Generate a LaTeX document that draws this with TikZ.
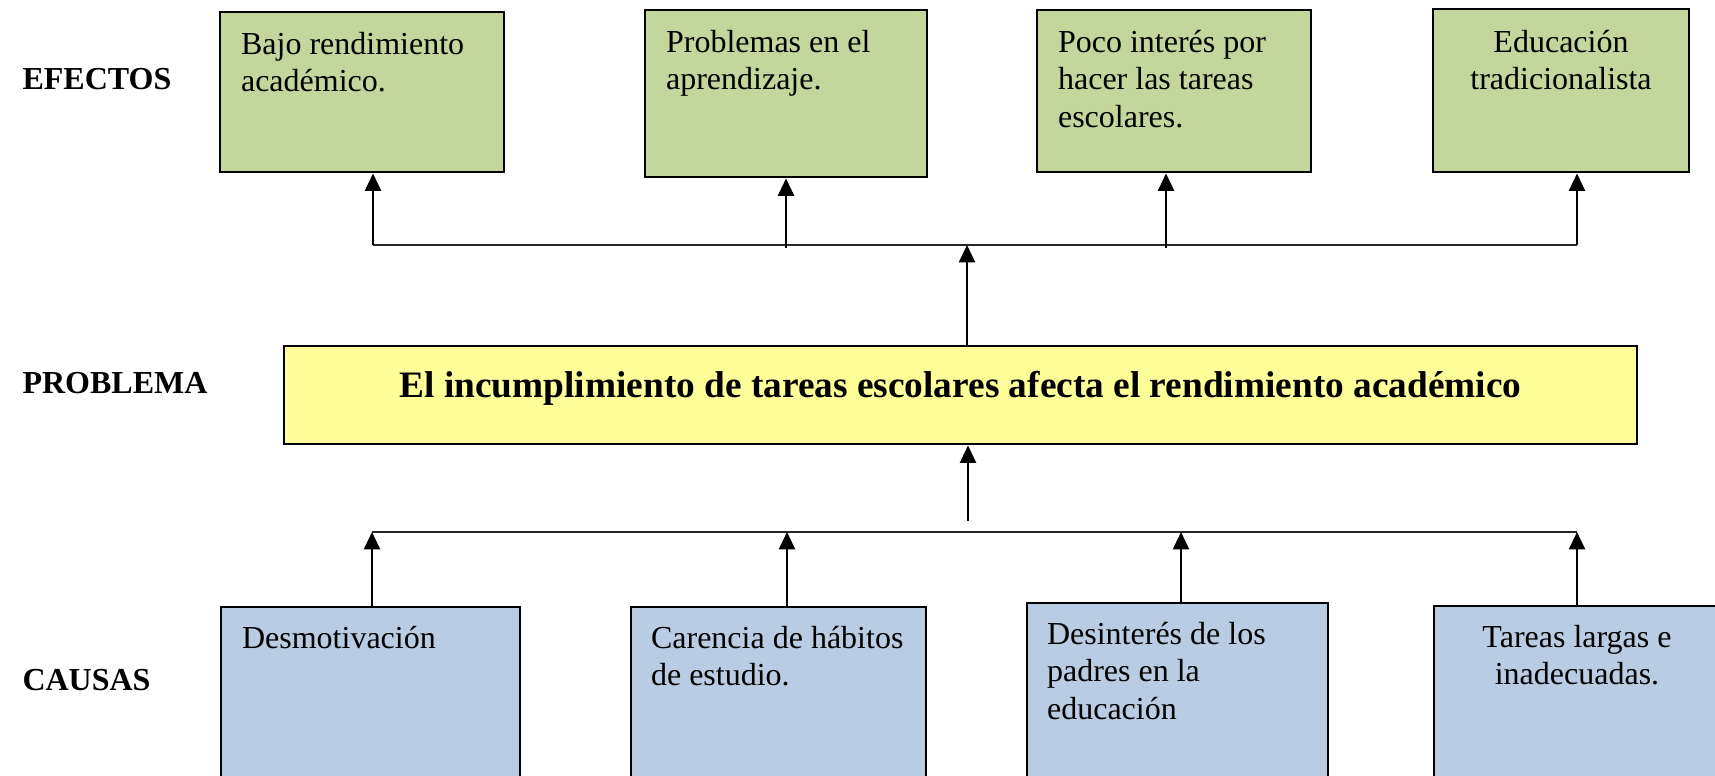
\documentclass[tikz,border=0pt]{standalone}
\usepackage{fontspec}
\setmainfont{Liberation Serif}
\usetikzlibrary{arrows.meta,fit}
\definecolor{effgreen}{HTML}{C3D69B}
\definecolor{probyellow}{HTML}{FFFF99}
\definecolor{causeblue}{HTML}{B8CCE4}
\begin{document}
\begin{tikzpicture}[x=0.375pt,y=-0.375pt,
  box/.style={draw=black, line width=1.1pt, inner sep=0pt},
  effbox/.style={box, fill=effgreen},
  causebox/.style={box, fill=causeblue},
  probbox/.style={box, fill=probyellow},
  boxtext/.style={inner sep=0pt, font=\fontsize{12}{14}\selectfont},
  sidelabel/.style={inner sep=0pt, anchor=base west, font=\fontsize{12}{14}\selectfont\bfseries},
  arr/.style={line width=0.8pt, -{Triangle[length=6.5pt,width=6pt]}},
  bus/.style={line width=0.6pt, draw=black!85}]
\clip (0,0) rectangle (1715,775);
\fill[white] (0,0) rectangle (1715,775);

% side labels
\node[sidelabel] (lef) at (22,89) {EFECTOS};
\node[sidelabel] (lpr) at (22,393) {PROBLEMA};
\node[sidelabel] (lca) at (22,690) {CAUSAS};

% effect boxes
\node[effbox, fit={(220,12) (504,172)}] (e1) {};
\node[effbox, fit={(645,10) (927,177)}] (e2) {};
\node[effbox, fit={(1037,10) (1311,172)}] (e3) {};
\node[effbox, fit={(1433,9) (1689,172)}] (e4) {};

\node[boxtext, anchor=base west] (e1t) at ([shift={(22,44)}]e1.north west)
  {\parbox[t]{120pt}{\raggedright Bajo rendimiento\\académico.}};
\node[boxtext, anchor=base west] (e2t) at ([shift={(22,44)}]e2.north west)
  {\parbox[t]{120pt}{\raggedright Problemas en el\\aprendizaje.}};
\node[boxtext, anchor=base west] (e3t) at ([shift={(22,44)}]e3.north west)
  {\parbox[t]{120pt}{\raggedright Poco interés por\\hacer las tareas\\escolares.}};
\node[boxtext, anchor=base] (e4t) at ([shift={(0,45)}]e4.north)
  {\parbox[t]{96pt}{\centering Educación\\tradicionalista}};

% problem box
\node[probbox, fit={(284,346) (1637,444)}] (p) {};
\node[inner sep=0pt, anchor=base, font=\fontsize{14}{16}\selectfont\bfseries] (pt) at (960.5,397)
  {El incumplimiento de tareas escolares afecta el rendimiento académico};

% cause boxes
\node[causebox, fit={(221,607) (520,820)}] (c1) {};
\node[causebox, fit={(631,607) (926,820)}] (c2) {};
\node[causebox, fit={(1027,603) (1328,820)}] (c3) {};
\node[causebox, fit={(1434,606) (1720,820)}] (c4) {};

\node[boxtext, anchor=base west] (c1t) at ([shift={(22,43)}]c1.north west)
  {\parbox[t]{120pt}{\raggedright Desmotivación}};
\node[boxtext, anchor=base west] (c2t) at ([shift={(21,43)}]c2.north west)
  {\parbox[t]{120pt}{\raggedright Carencia de hábitos\\de estudio.}};
\node[boxtext, anchor=base west] (c3t) at ([shift={(21,43)}]c3.north west)
  {\parbox[t]{120pt}{\raggedright Desinterés de los\\padres en la\\educación}};
\node[boxtext, anchor=base] (c4t) at ([shift={(0,43)}]c4.north)
  {\parbox[t]{107pt}{\centering Tareas largas e\\inadecuadas.}};

% upper bus (effects)
\coordinate (ua) at (373,245);
\coordinate (ub) at (786,245);
\coordinate (uc) at (1166,245);
\coordinate (ud) at (1577,245);
\coordinate (um) at (967,245);
\draw[bus] (ua) -- (ud);
\draw[arr] (ua) -- (ua |- e1.south);
\draw[arr] ([yshift=-1.2pt]ub) -- (ub |- e2.south);
\draw[arr] ([yshift=-1.2pt]uc) -- (uc |- e3.south);
\draw[arr] (ud) -- (ud |- e4.south);
\draw[arr] (um |- p.north) -- (um);

% lower bus (causes)
\coordinate (la) at (372,532);
\coordinate (lb) at (787,532);
\coordinate (lc) at (1181,532);
\coordinate (ld) at (1577,532);
\coordinate (lm) at (968,521);
\draw[bus] (la) -- (ld);
\draw[arr] (la |- c1.north) -- (la);
\draw[arr] (lb |- c2.north) -- (lb);
\draw[arr] (lc |- c3.north) -- (lc);
\draw[arr] (ld |- c4.north) -- (ld);
\draw[arr] (lm) -- (lm |- p.south);
\end{tikzpicture}
\end{document}
